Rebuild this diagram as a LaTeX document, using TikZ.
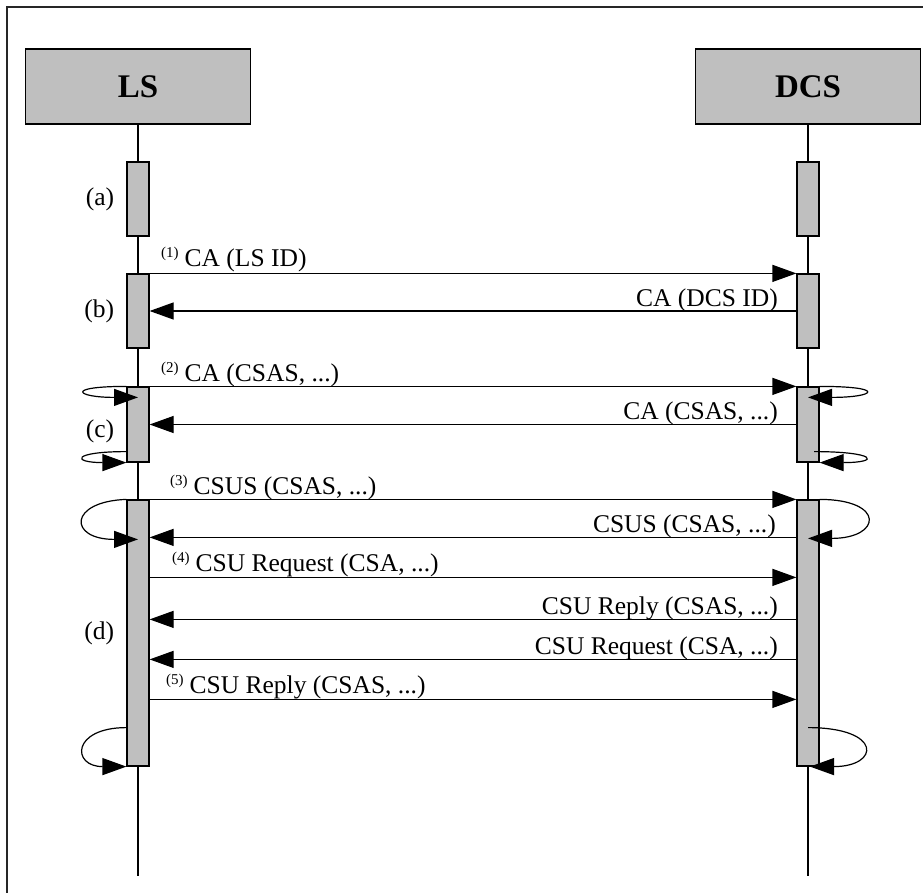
\documentclass[tikz,border=0pt]{standalone}
\usepackage{fontspec}
\setmainfont{Liberation Serif}
\usetikzlibrary{arrows.meta, positioning}

\newcommand{\msgno}[1]{{\fontsize{15}{15}\selectfont\raisebox{9pt}{(#1)}}\hspace{6pt}}

\begin{document}
\begin{tikzpicture}[
  x=1pt, y=-1pt,
  head/.style={rectangle, draw, line width=1.6pt, fill=black!25, minimum width=225pt, minimum height=75pt, font=\fontsize{33}{36}\selectfont\bfseries},
  bar/.style={rectangle, draw, line width=1.2pt, fill=black!25, minimum width=22pt, inner sep=0pt},
  life/.style={draw, line width=1.2pt},
  msg/.style={draw, line width=1.2pt, -{Triangle[length=24pt,width=17pt]}},
  selfloop/.style={draw, line width=1.2pt, -{Triangle[length=24pt,width=17pt]}},
  lbl/.style={font=\fontsize{25.5}{28}\selectfont, inner sep=0pt},
  phase/.style={font=\fontsize{25.5}{28}\selectfont, inner sep=0pt}
]
\useasboundingbox (0,0) rectangle (923,893);
\draw[line width=1.8pt, black!85] (7,7) rectangle (960,930);

% entities and lifelines
\node[head] (ls) at (138,86.5) {LS};
\node[head] (dcs) at (808,86.5) {DCS};
\coordinate (lsEnd) at (138,876);
\coordinate (dcsEnd) at (808,876);
\draw[life] (ls.south) -- (lsEnd);
\draw[life] (dcs.south) -- (dcsEnd);

% activations
\node[bar, minimum height=74pt] (lsA) at (138,199) {};
\node[bar, minimum height=74pt] (dcsA) at (808,199) {};
\node[bar, minimum height=74pt] (lsB) at (138,311) {};
\node[bar, minimum height=74pt] (dcsB) at (808,311) {};
\node[bar, minimum height=75pt] (lsC) at (138,424.5) {};
\node[bar, minimum height=75pt] (dcsC) at (808,424.5) {};
\node[bar, minimum height=266pt] (lsD) at (138,633) {};
\node[bar, minimum height=266pt] (dcsD) at (808,633) {};

\node[phase, left=12pt of lsA] (phA) {(a)};
\node[phase, left=12pt of lsB] (phB) {(b)};
\node[phase, left=12pt of lsC, yshift=-7pt] (phC) {(c)};
\node[phase, left=12pt of lsD] (phD) {(d)};

% messages
\draw[msg] (lsB.north east) -- node[pos=0, lbl, anchor=base west, xshift=11pt, yshift=7pt] {\msgno{1}CA (LS ID)} (dcsB.north west);
\draw[msg] (dcsB.west) -- node[pos=0, lbl, anchor=base east, xshift=-18pt, yshift=5pt] {CA (DCS ID)} (lsB.east);
\draw[msg] (lsC.north east) -- node[pos=0, lbl, anchor=base west, xshift=11pt, yshift=5pt] {\msgno{2}CA (CSAS, ...)} (dcsC.north west);
\draw[msg] (dcsC.west) -- node[pos=0, lbl, anchor=base east, xshift=-18pt, yshift=5pt] {CA (CSAS, ...)} (lsC.east);
\draw[msg] (lsD.north east) -- node[pos=0, lbl, anchor=base west, xshift=20pt, yshift=5pt] {\msgno{3}CSUS (CSAS, ...)} (dcsD.north west);
\draw[msg] ([yshift=-38pt]dcsD.north west) -- node[pos=0, lbl, anchor=base east, xshift=-20pt, yshift=5pt] {CSUS (CSAS, ...)} ([yshift=-38pt]lsD.north east);
\draw[msg] ([yshift=-78pt]lsD.north east) -- node[pos=0, lbl, anchor=base west, xshift=22pt, yshift=6pt] {\msgno{4}CSU Request (CSA, ...)} ([yshift=-78pt]dcsD.north west);
\draw[msg] ([yshift=-120pt]dcsD.north west) -- node[pos=0, lbl, anchor=base east, xshift=-18pt, yshift=5pt] {CSU Reply (CSAS, ...)} ([yshift=-120pt]lsD.north east);
\draw[msg] ([yshift=-160pt]dcsD.north west) -- node[pos=0, lbl, anchor=base east, xshift=-18pt, yshift=5pt] {CSU Request (CSA, ...)} ([yshift=-160pt]lsD.north east);
\draw[msg] ([yshift=-200pt]lsD.north east) -- node[pos=0, lbl, anchor=base west, xshift=16pt, yshift=6pt] {\msgno{5}CSU Reply (CSAS, ...)} ([yshift=-200pt]dcsD.north west);

% self loops
\draw[selfloop] (lsC.north west) .. controls +(-62,0) and +(-62,0) .. ([yshift=-11pt]lsC.north);
\draw[selfloop] ([yshift=11pt]lsC.south west) .. controls +(-55,0) and +(-55,0) .. (lsC.south west);
\draw[selfloop] (dcsC.north east) .. controls +(68,0) and +(68,0) .. ([yshift=-11pt]dcsC.north);
\draw[selfloop] ([xshift=6pt,yshift=11pt]dcsC.south) .. controls +(62,0) and +(62,0) .. (dcsC.south east);
\draw[selfloop] (lsD.north west) .. controls +(-58,2) and +(-70,0) .. ([yshift=-40pt]lsD.north);
\draw[selfloop] (dcsD.north east) .. controls +(66,0) and +(74,0) .. ([yshift=-39pt]dcsD.north);
\draw[selfloop] ([yshift=39pt]lsD.south west) .. controls +(-55,0) and +(-55,0) .. (lsD.south west);
\draw[selfloop] ([yshift=39pt]dcsD.south) .. controls +(75,0) and +(70,0) .. ([xshift=2pt]dcsD.south);
\end{tikzpicture}
\end{document}
